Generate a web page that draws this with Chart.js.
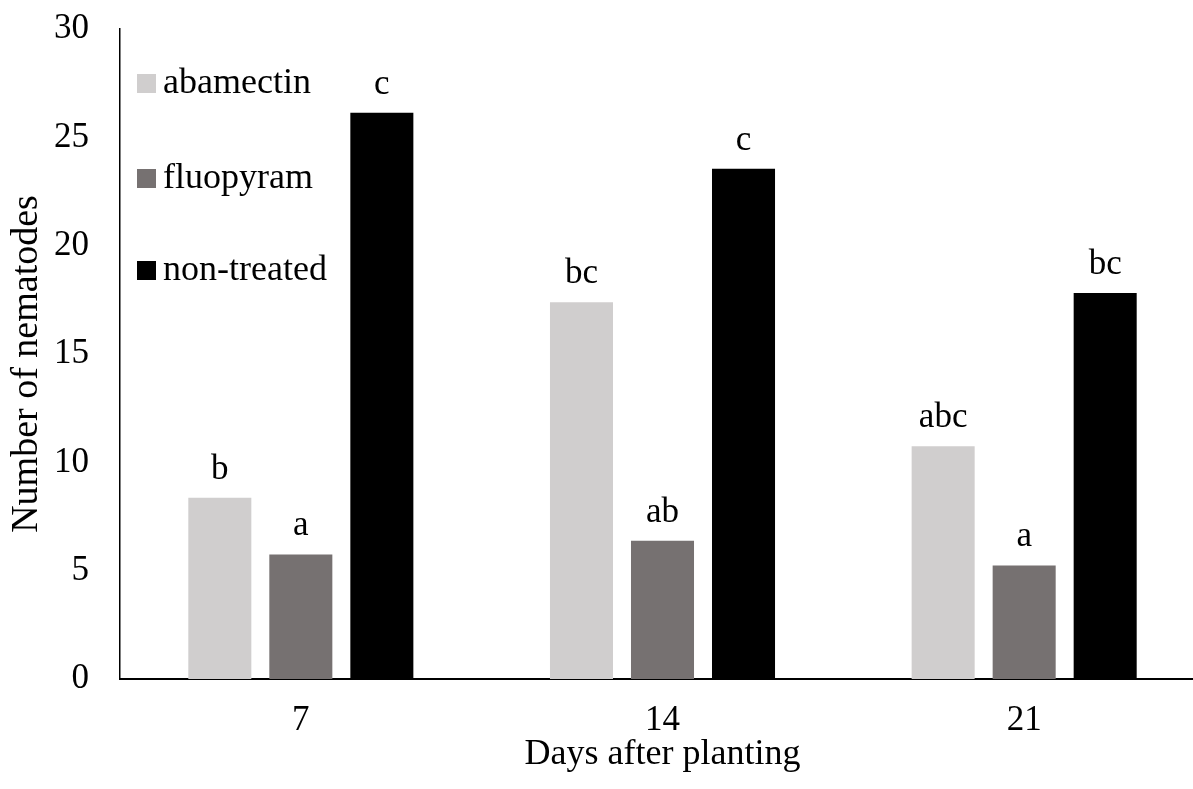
<!DOCTYPE html>
<html>
<head>
<meta charset="utf-8">
<script src="https://cdn.jsdelivr.net/npm/chart.js@4.4.1/dist/chart.umd.min.js"></script>
<style>
    html, body { margin: 0; padding: 0; background: #fff; overflow: hidden; }
    #wrap { width: 1206px; height: 789px; position: relative; }
</style>
</head>
<body>
<div id="wrap"><canvas id="chart"></canvas></div>
<script>
const days = ['7', '14', '21'];
const abamectin = [8.36, 17.39, 10.74];
const fluopyram = [5.75, 6.38, 5.24];
const nonTreated = [26.13, 23.55, 17.82];

// lettere di significatività sopra le barre
const abamectinLetters = ['b', 'bc', 'abc'];
const fluopyramLetters = ['a', 'ab', 'a'];
const nonTreatedLetters = ['c', 'c', 'bc'];

const yTicks = [0, 5, 10, 15, 20, 25, 30];
const yTitle = 'Number of nematodes';

const FONT = "'Liberation Serif', 'Times New Roman', serif";

const letterPlugin = {
    id: 'letters',
    afterDatasetsDraw(chart) {
        const ctx = chart.ctx;
        ctx.save();
        ctx.font = `35px ${FONT}`;
        ctx.fillStyle = '#000';
        ctx.textAlign = 'center';
        ctx.textBaseline = 'alphabetic';
        chart.data.datasets.forEach((ds, i) => {
            const meta = chart.getDatasetMeta(i);
            meta.data.forEach((bar, j) => {
                ctx.fillText(ds.letters[j], bar.x, bar.y - 19);
            });
        });
        ctx.restore();
    }
};

const legendPlugin = {
    id: 'insideLegend',
    afterDraw(chart) {
        const ctx = chart.ctx;
        const baselines = [93, 188, 280];
        ctx.save();
        ctx.font = `36px ${FONT}`;
        ctx.textAlign = 'left';
        ctx.textBaseline = 'alphabetic';
        chart.data.datasets.forEach((ds, i) => {
            const y = baselines[i];
            ctx.fillStyle = ds.backgroundColor;
            ctx.fillRect(137, y - 19, 19, 19);
            ctx.fillStyle = '#000';
            ctx.fillText(ds.label, 163, y);
        });
        ctx.restore();
    }
};

// titolo asse y, leggermente sotto il centro come nell'originale
const yTitlePlugin = {
    id: 'yTitle',
    afterDraw(chart) {
        const ctx = chart.ctx;
        ctx.save();
        ctx.translate(27, 364);
        ctx.rotate(-Math.PI / 2);
        ctx.font = `38px ${FONT}`;
        ctx.fillStyle = '#000';
        ctx.textAlign = 'center';
        ctx.textBaseline = 'middle';
        ctx.fillText(yTitle, 0, 0);
        ctx.restore();
    }
};

new Chart(document.getElementById('chart'), {
    type: 'bar',
    data: {
        labels: days,
        datasets: [
            { label: 'abamectin', data: abamectin, letters: abamectinLetters, backgroundColor: '#D0CECE' },
            { label: 'fluopyram', data: fluopyram, letters: fluopyramLetters, backgroundColor: '#767171' },
            { label: 'non-treated', data: nonTreated, letters: nonTreatedLetters, backgroundColor: '#000000' }
        ]
    },
    options: {
        responsive: true,
        maintainAspectRatio: false,
        animation: false,
        categoryPercentage: 0.672,
        barPercentage: 0.778,
        layout: { padding: { top: 29, right: 1, bottom: 0, left: 0 } },
        scales: {
            x: {
                grid: { display: false, drawTicks: false },
                border: { display: true, color: '#000', width: 2 },
                ticks: { color: '#000', padding: 21, font: { family: FONT, size: 35 } },
                title: {
                    display: true,
                    text: 'Days after planting',
                    color: '#000',
                    padding: { top: 0, bottom: 13 },
                    font: { family: FONT, size: 36 }
                },
                afterFit(scale) { scale.height = 110; }
            },
            y: {
                min: 0,
                max: 30,
                afterBuildTicks(scale) { scale.ticks = yTicks.map(v => ({ value: v })); },
                grid: { display: false, drawTicks: false },
                border: { display: true, color: '#000', width: 1.5 },
                ticks: { color: '#000', padding: 31, font: { family: FONT, size: 35 } },
                afterFit(scale) {
                    scale.width = 120;
                    scale.paddingTop = 0;
                    scale.paddingBottom = 0;
                }
            }
        },
        plugins: {
            legend: { display: false },
            tooltip: { enabled: false }
        }
    },
    plugins: [letterPlugin, legendPlugin, yTitlePlugin]
});
</script>
</body>
</html>
